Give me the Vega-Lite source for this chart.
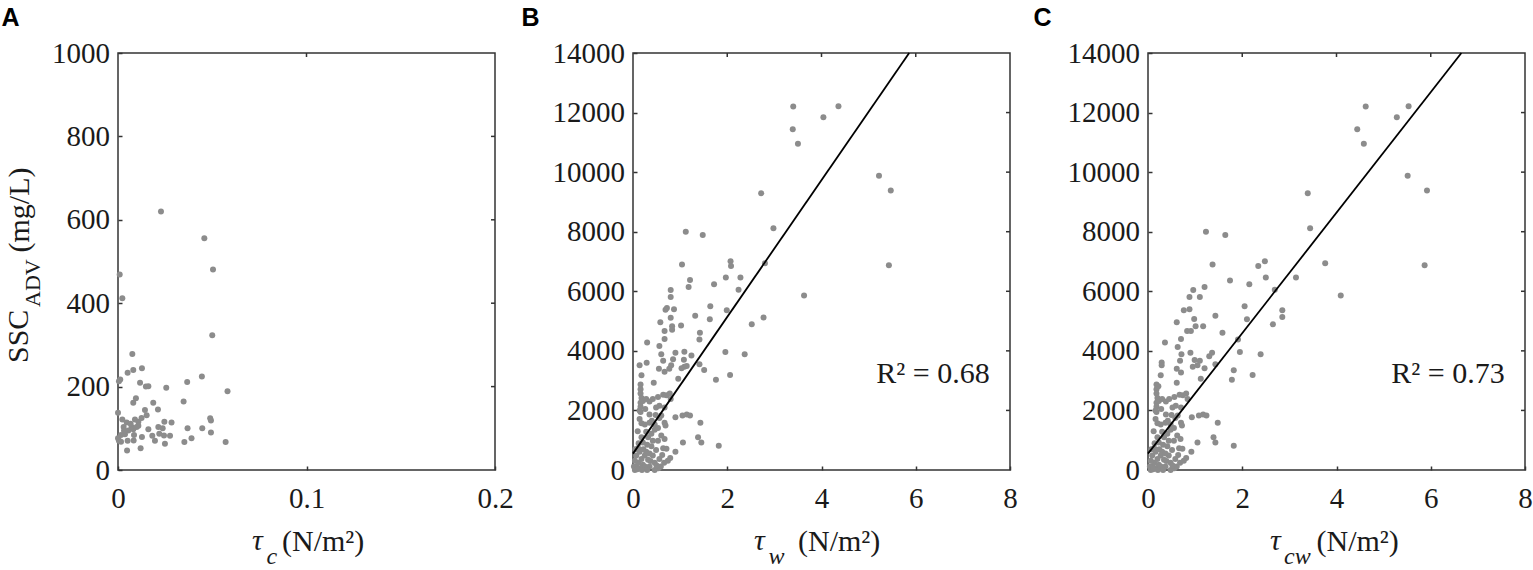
{
"$schema":"https://vega.github.io/schema/vega-lite/v6.json",
"background":"white",
"padding":{"left":0,"top":5,"right":0,"bottom":0},
"bounds":"flush",
"spacing":138,
"datasets":{
"a":[{"x":0.0228,"y":620},{"x":0.0458,"y":556},{"x":0.0504,"y":481},{"x":0.05,"y":323},{"x":0.0009,"y":469},{"x":0.0023,"y":412},{"x":0.0076,"y":278},{"x":0.0051,"y":233},{"x":0.0081,"y":240},{"x":0.0127,"y":244},{"x":0.0005,"y":213},{"x":0.0012,"y":217},{"x":0.0117,"y":209},{"x":0.0148,"y":200},{"x":0.0161,"y":201},{"x":0.0256,"y":197},{"x":0.0367,"y":211},{"x":0.0445,"y":224},{"x":0.0581,"y":189},{"x":0.0095,"y":172},{"x":0.0081,"y":161},{"x":0.0187,"y":161},{"x":0.0212,"y":145},{"x":0.0348,"y":164},{"x":0,"y":137},{"x":0.0143,"y":144},{"x":0.0152,"y":131},{"x":0.0125,"y":125},{"x":0.009,"y":121},{"x":0.0023,"y":121},{"x":0.0046,"y":114},{"x":0.0067,"y":111},{"x":0.0108,"y":116},{"x":0.0072,"y":103},{"x":0.003,"y":103},{"x":0.0055,"y":95},{"x":0.0108,"y":106},{"x":0.0214,"y":103},{"x":0.0246,"y":116},{"x":0.0284,"y":114},{"x":0.0237,"y":100},{"x":0.0219,"y":87},{"x":0.0244,"y":83},{"x":0.0276,"y":82},{"x":0.0182,"y":82},{"x":0.0127,"y":79},{"x":0.0085,"y":84},{"x":0.0016,"y":84},{"x":0,"y":76},{"x":0.0016,"y":68},{"x":0.0051,"y":70},{"x":0.0083,"y":71},{"x":0.0196,"y":70},{"x":0.0249,"y":63},{"x":0.0352,"y":67},{"x":0.039,"y":76},{"x":0.0369,"y":100},{"x":0.0447,"y":100},{"x":0.0493,"y":119},{"x":0.0489,"y":124},{"x":0.0493,"y":90},{"x":0.0571,"y":67},{"x":0.0048,"y":47},{"x":0.012,"y":52},{"x":0.0037,"y":86},{"x":0.0032,"y":94},{"x":0.0161,"y":98},{"x":0.0081,"y":98},{"x":0.0005,"y":70},{"x":0.0099,"y":103}],
"b":[{"x":3.4,"y":12200},{"x":4.36,"y":12215},{"x":4.04,"y":11840},{"x":3.39,"y":11440},{"x":3.5,"y":10955},{"x":5.22,"y":9880},{"x":5.47,"y":9380},{"x":5.43,"y":6870},{"x":2.72,"y":9290},{"x":2.98,"y":8120},{"x":2.8,"y":6945},{"x":3.63,"y":5860},{"x":2.77,"y":5120},{"x":2.52,"y":4890},{"x":2.37,"y":3890},{"x":2.06,"y":3190},{"x":1.96,"y":3960},{"x":1.76,"y":3030},{"x":1.82,"y":810},{"x":1.12,"y":8000},{"x":1.48,"y":7890},{"x":1.04,"y":6900},{"x":2.07,"y":7010},{"x":2.08,"y":6850},{"x":1.97,"y":6460},{"x":2.28,"y":6460},{"x":2.24,"y":6050},{"x":1.99,"y":5360},{"x":1.72,"y":6240},{"x":1.64,"y":5500},{"x":1.63,"y":5060},{"x":1.32,"y":5180},{"x":1.21,"y":6380},{"x":1.18,"y":6140},{"x":0.8,"y":6040},{"x":0.8,"y":5810},{"x":0.72,"y":5440},{"x":0.69,"y":5380},{"x":0.87,"y":5400},{"x":0.8,"y":5110},{"x":0.58,"y":4960},{"x":0.83,"y":4830},{"x":0.83,"y":4710},{"x":0.67,"y":4670},{"x":1.02,"y":4850},{"x":1.42,"y":4610},{"x":1.41,"y":4380},{"x":0.3,"y":4280},{"x":0.67,"y":4400},{"x":0.56,"y":4160},{"x":0.6,"y":3890},{"x":0.64,"y":3670},{"x":0.9,"y":3940},{"x":0.85,"y":3720},{"x":1.09,"y":3970},{"x":1.08,"y":3700},{"x":1.24,"y":3840},{"x":1.09,"y":3470},{"x":1.03,"y":3420},{"x":1.14,"y":3490},{"x":1.41,"y":3550},{"x":1.51,"y":3360},{"x":0.96,"y":3060},{"x":0.14,"y":3520},{"x":0.29,"y":3600},{"x":0.18,"y":3180},{"x":0.55,"y":3400},{"x":0.67,"y":3300},{"x":0.81,"y":3520},{"x":0.77,"y":3400},{"x":0.44,"y":2930},{"x":0.16,"y":2870},{"x":0.16,"y":2710},{"x":0.16,"y":2570},{"x":0.18,"y":2420},{"x":0.16,"y":2260},{"x":0.16,"y":2120},{"x":0.21,"y":2320},{"x":0.28,"y":2380},{"x":0.35,"y":2300},{"x":0.42,"y":2380},{"x":0.53,"y":2450},{"x":0.64,"y":2530},{"x":0.71,"y":2510},{"x":0.78,"y":2570},{"x":0.8,"y":2380},{"x":0.56,"y":2160},{"x":0.49,"y":2100},{"x":0.67,"y":2100},{"x":0.35,"y":1860},{"x":0.9,"y":1770},{"x":1.05,"y":1830},{"x":1.14,"y":1860},{"x":1.21,"y":1830},{"x":1.43,"y":1590},{"x":1.38,"y":1100},{"x":1.45,"y":920},{"x":1.06,"y":920},{"x":0.9,"y":610},{"x":0.79,"y":400},{"x":0.14,"y":1710},{"x":0.18,"y":1570},{"x":0.25,"y":1530},{"x":0.35,"y":1590},{"x":0.46,"y":1530},{"x":0.67,"y":1590},{"x":0.69,"y":1490},{"x":0.6,"y":1830},{"x":0.04,"y":0},{"x":0.07,"y":120},{"x":0.11,"y":245},{"x":0.14,"y":60},{"x":0.18,"y":370},{"x":0.21,"y":180},{"x":0.25,"y":490},{"x":0.28,"y":610},{"x":0.32,"y":340},{"x":0.35,"y":120},{"x":0.39,"y":800},{"x":0.42,"y":490},{"x":0.46,"y":245},{"x":0.49,"y":670},{"x":0.53,"y":980},{"x":0.56,"y":370},{"x":0.6,"y":1160},{"x":0.64,"y":730},{"x":0.67,"y":1040},{"x":0.71,"y":710},{"x":0.74,"y":310},{"x":0.18,"y":1100},{"x":0.21,"y":920},{"x":0.28,"y":1280},{"x":0.32,"y":1100},{"x":0.39,"y":1220},{"x":0.46,"y":1350},{"x":0.53,"y":1410},{"x":0.11,"y":730},{"x":0.07,"y":490},{"x":0.14,"y":610},{"x":0.04,"y":310},{"x":0.02,"y":120},{"x":0.09,"y":25},{"x":0.42,"y":980},{"x":0.25,"y":120},{"x":0.35,"y":550},{"x":0.59,"y":120},{"x":0.66,"y":245},{"x":0.46,"y":0},{"x":0.54,"y":60},{"x":0.3,"y":0},{"x":0.19,"y":0},{"x":0.12,"y":900},{"x":0.1,"y":1300},{"x":0.22,"y":700},{"x":0.3,"y":850},{"x":0.37,"y":300},{"x":0.5,"y":150},{"x":0.62,"y":500},{"x":0.05,"y":700},{"x":0.16,"y":1950},{"x":0.14,"y":2000},{"x":0.26,"y":2050},{"x":0.4,"y":1650},{"x":0.48,"y":1850},{"x":0.56,"y":1750}],
"c":[{"x":4.62,"y":12200},{"x":5.53,"y":12215},{"x":5.28,"y":11840},{"x":4.44,"y":11440},{"x":4.58,"y":10955},{"x":5.51,"y":9880},{"x":5.92,"y":9380},{"x":5.87,"y":6870},{"x":3.39,"y":9290},{"x":3.44,"y":8120},{"x":3.76,"y":6945},{"x":4.09,"y":5860},{"x":3.14,"y":6460},{"x":2.85,"y":5360},{"x":2.85,"y":5140},{"x":2.65,"y":4890},{"x":2.39,"y":3890},{"x":2.22,"y":3190},{"x":1.95,"y":3960},{"x":1.91,"y":4380},{"x":1.78,"y":3030},{"x":1.82,"y":3350},{"x":1.82,"y":810},{"x":1.48,"y":1590},{"x":1.39,"y":1100},{"x":1.43,"y":920},{"x":1.05,"y":920},{"x":1.23,"y":8000},{"x":1.64,"y":7890},{"x":1.37,"y":6900},{"x":2.34,"y":6850},{"x":2.48,"y":7010},{"x":2.5,"y":6460},{"x":2.15,"y":6240},{"x":2.05,"y":5500},{"x":2.1,"y":5060},{"x":2.69,"y":6050},{"x":1.74,"y":6360},{"x":1.2,"y":6140},{"x":1.43,"y":5180},{"x":1.58,"y":4610},{"x":0.96,"y":6040},{"x":1.1,"y":5810},{"x":0.88,"y":5810},{"x":0.76,"y":5360},{"x":0.88,"y":5400},{"x":0.98,"y":5070},{"x":1.01,"y":4830},{"x":1.17,"y":4830},{"x":0.61,"y":4960},{"x":0.83,"y":4670},{"x":0.91,"y":4670},{"x":0.7,"y":4400},{"x":0.36,"y":4280},{"x":0.63,"y":4130},{"x":0.71,"y":3890},{"x":0.9,"y":3940},{"x":0.68,"y":3670},{"x":0.99,"y":3690},{"x":1.1,"y":3670},{"x":1.3,"y":3820},{"x":1.36,"y":3940},{"x":0.95,"y":3470},{"x":1.05,"y":3520},{"x":1.2,"y":3420},{"x":1.12,"y":3060},{"x":1.43,"y":3550},{"x":0.29,"y":3610},{"x":0.29,"y":3520},{"x":0.27,"y":3180},{"x":0.61,"y":3400},{"x":0.7,"y":3270},{"x":0.61,"y":2930},{"x":0.18,"y":2870},{"x":0.22,"y":2810},{"x":0.18,"y":2710},{"x":0.18,"y":2570},{"x":0.2,"y":2420},{"x":0.18,"y":2260},{"x":0.18,"y":2120},{"x":0.23,"y":2320},{"x":0.3,"y":2380},{"x":0.38,"y":2300},{"x":0.45,"y":2380},{"x":0.56,"y":2450},{"x":0.67,"y":2530},{"x":0.74,"y":2510},{"x":0.81,"y":2570},{"x":0.84,"y":2380},{"x":0.59,"y":2160},{"x":0.52,"y":2100},{"x":0.7,"y":2100},{"x":0.38,"y":1860},{"x":0.93,"y":1770},{"x":1.08,"y":1830},{"x":1.17,"y":1860},{"x":1.24,"y":1830},{"x":0.81,"y":400},{"x":0.92,"y":610},{"x":0.16,"y":1710},{"x":0.2,"y":1570},{"x":0.27,"y":1530},{"x":0.37,"y":1590},{"x":0.48,"y":1530},{"x":0.7,"y":1590},{"x":0.72,"y":1490},{"x":0.63,"y":1830},{"x":0.06,"y":0},{"x":0.09,"y":120},{"x":0.13,"y":245},{"x":0.16,"y":60},{"x":0.2,"y":370},{"x":0.23,"y":180},{"x":0.27,"y":490},{"x":0.3,"y":610},{"x":0.34,"y":340},{"x":0.37,"y":120},{"x":0.41,"y":800},{"x":0.44,"y":490},{"x":0.48,"y":245},{"x":0.51,"y":670},{"x":0.55,"y":980},{"x":0.58,"y":370},{"x":0.62,"y":1160},{"x":0.66,"y":730},{"x":0.69,"y":1040},{"x":0.73,"y":710},{"x":0.76,"y":310},{"x":0.2,"y":1100},{"x":0.23,"y":920},{"x":0.3,"y":1280},{"x":0.34,"y":1100},{"x":0.41,"y":1220},{"x":0.48,"y":1350},{"x":0.55,"y":1410},{"x":0.13,"y":730},{"x":0.09,"y":490},{"x":0.16,"y":610},{"x":0.06,"y":310},{"x":0.04,"y":120},{"x":0.11,"y":25},{"x":0.44,"y":980},{"x":0.27,"y":120},{"x":0.37,"y":550},{"x":0.61,"y":120},{"x":0.68,"y":245},{"x":0.48,"y":0},{"x":0.56,"y":60},{"x":0.32,"y":0},{"x":0.21,"y":0},{"x":0.14,"y":900},{"x":0.12,"y":1300},{"x":0.24,"y":700},{"x":0.32,"y":850},{"x":0.39,"y":300},{"x":0.52,"y":150},{"x":0.64,"y":500},{"x":0.07,"y":700},{"x":0.18,"y":1950},{"x":0.16,"y":2000},{"x":0.28,"y":2050},{"x":0.42,"y":1650},{"x":0.5,"y":1850},{"x":0.58,"y":1750}],
"bfit":[{"x":0,"y":550},{"x":5.86,"y":14000}],
"cfit":[{"x":0,"y":550},{"x":6.65,"y":14000}],
"blab":[{"x":7.57,"y":2930,"label":"R² = 0.68"}],
"clab":[{"x":7.57,"y":2930,"label":"R² = 0.73"}],
"atx":[{"v":0.1}],
"aty":[{"v":200},{"v":400},{"v":600},{"v":800}],
"btx":[{"v":2},{"v":4},{"v":6}],
"bty":[{"v":2000},{"v":4000},{"v":6000},{"v":8000},{"v":10000},{"v":12000}],
"one":[{}]
},
"hconcat":[
{
"width":377,"height":417,
"title":{"text":"A","anchor":"start","frame":"group","dx":-116.5,"offset":-12,"font":"Liberation Sans","fontSize":25,"fontWeight":"bold","baseline":"alphabetic","color":"#000000"},
"layer":[
{"data":{"name":"a"},"mark":{"type":"point","filled":true,"color":"#8c8c8c","size":36,"opacity":1},
"encoding":{
"x":{"field":"x","type":"quantitative","scale":{"domain":[0,0.2],"nice":false,"zero":false},"axis":{"orient":"bottom","offset":-4,"values":[0,0.1,0.2],"format":"~g","labelFont":"Liberation Serif","labelFontSize":29,"labelPadding":14,"title":"(N/m²)","titleFont":"Liberation Serif","titleX":163.5,"titleY":84,"titleAlign":"left","titleBaseline":"alphabetic","titleAngle":0}},
"y":{"field":"y","type":"quantitative","scale":{"domain":[0,1000],"nice":false,"zero":false},"axis":{"orient":"left","offset":-4,"values":[0,200,400,600,800,1000],"format":"d","labelFont":"Liberation Serif","labelFontSize":29,"labelPadding":8.4,"title":"(mg/L)","titleFont":"Liberation Serif","titleX":-93.8,"titleY":199,"titleAlign":"left","titleBaseline":"alphabetic","titleAngle":270}}}},
{"data":{"name":"atx"},"mark":{"type":"rule","color":"#333333","strokeWidth":1.5},
"encoding":{"x":{"field":"v","type":"quantitative"},"y":{"datum":1000,"type":"quantitative"},"y2":{"datum":990.4}}},
{"data":{"name":"aty"},"mark":{"type":"rule","color":"#333333","strokeWidth":1.5},
"encoding":{"y":{"field":"v","type":"quantitative"},"x":{"datum":0.2,"type":"quantitative"},"x2":{"datum":0.19788}}},
{"data":{"name":"one"},"mark":{"type":"text","font":"Liberation Serif","fontSize":30,"fontStyle":"italic","align":"left","baseline":"alphabetic","color":"#1a1a1a"},
"encoding":{"x":{"datum":0.07109,"type":"quantitative"},"y":{"datum":-191.85,"type":"quantitative"},"text":{"value":"τ"}}},
{"data":{"name":"one"},"mark":{"type":"text","font":"Liberation Serif","fontSize":24,"fontStyle":"italic","align":"left","baseline":"alphabetic","color":"#1a1a1a"},
"encoding":{"x":{"datum":0.07878,"type":"quantitative"},"y":{"datum":-225.4,"type":"quantitative"},"text":{"value":"c"}}},
{"data":{"name":"one"},"mark":{"type":"text","font":"Liberation Serif","fontSize":30,"angle":270,"align":"left","baseline":"alphabetic","color":"#1a1a1a"},
"encoding":{"x":{"datum":-0.04764,"type":"quantitative"},"y":{"datum":256.6,"type":"quantitative"},"text":{"value":"SSC"}}},
{"data":{"name":"one"},"mark":{"type":"text","font":"Liberation Serif","fontSize":22,"angle":270,"align":"left","baseline":"alphabetic","color":"#1a1a1a"},
"encoding":{"x":{"datum":-0.04149,"type":"quantitative"},"y":{"datum":390.9,"type":"quantitative"},"text":{"value":"ADV"}}}
]
},
{
"width":377,"height":417,
"title":{"text":"B","anchor":"start","frame":"group","dx":-111.5,"offset":-12,"font":"Liberation Sans","fontSize":25,"fontWeight":"bold","baseline":"alphabetic","color":"#000000"},
"layer":[
{"data":{"name":"b"},"mark":{"type":"point","filled":true,"color":"#8c8c8c","size":36,"opacity":1},
"encoding":{
"x":{"field":"x","type":"quantitative","scale":{"domain":[0,8],"nice":false,"zero":false},"axis":{"orient":"bottom","offset":-4,"values":[0,2,4,6,8],"format":"d","labelFont":"Liberation Serif","labelFontSize":29,"labelPadding":14,"title":"(N/m²)","titleFont":"Liberation Serif","titleX":164.5,"titleY":84,"titleAlign":"left","titleBaseline":"alphabetic","titleAngle":0}},
"y":{"field":"y","type":"quantitative","scale":{"domain":[0,14000],"nice":false,"zero":false},"axis":{"orient":"left","offset":-4,"values":[0,2000,4000,6000,8000,10000,12000,14000],"format":"d","labelFont":"Liberation Serif","labelFontSize":29,"labelPadding":8.4,"title":null}}}},
{"data":{"name":"bfit"},"mark":{"type":"line","color":"#000000","strokeWidth":1.8},
"encoding":{"x":{"field":"x","type":"quantitative"},"y":{"field":"y","type":"quantitative"}}},
{"data":{"name":"blab"},"mark":{"type":"text","font":"Liberation Serif","fontSize":30,"align":"right","baseline":"alphabetic","color":"#1a1a1a"},
"encoding":{"x":{"field":"x","type":"quantitative"},"y":{"field":"y","type":"quantitative"},"text":{"field":"label"}}},
{"data":{"name":"btx"},"mark":{"type":"rule","color":"#333333","strokeWidth":1.5},
"encoding":{"x":{"field":"v","type":"quantitative"},"y":{"datum":14000,"type":"quantitative"},"y2":{"datum":13866}}},
{"data":{"name":"bty"},"mark":{"type":"rule","color":"#333333","strokeWidth":1.5},
"encoding":{"y":{"field":"v","type":"quantitative"},"x":{"datum":8,"type":"quantitative"},"x2":{"datum":7.915}}},
{"data":{"name":"one"},"mark":{"type":"text","font":"Liberation Serif","fontSize":30,"fontStyle":"italic","align":"left","baseline":"alphabetic","color":"#1a1a1a"},
"encoding":{"x":{"datum":2.5676,"type":"quantitative"},"y":{"datum":-2685.8,"type":"quantitative"},"text":{"value":"τ"}}},
{"data":{"name":"one"},"mark":{"type":"text","font":"Liberation Serif","fontSize":24,"fontStyle":"italic","align":"left","baseline":"alphabetic","color":"#1a1a1a"},
"encoding":{"x":{"datum":2.8753,"type":"quantitative"},"y":{"datum":-3156,"type":"quantitative"},"text":{"value":"w"}}}
]
},
{
"width":377,"height":417,
"title":{"text":"C","anchor":"start","frame":"group","dx":-114.5,"offset":-12,"font":"Liberation Sans","fontSize":25,"fontWeight":"bold","baseline":"alphabetic","color":"#000000"},
"layer":[
{"data":{"name":"c"},"mark":{"type":"point","filled":true,"color":"#8c8c8c","size":36,"opacity":1},
"encoding":{
"x":{"field":"x","type":"quantitative","scale":{"domain":[0,8],"nice":false,"zero":false},"axis":{"orient":"bottom","offset":-4,"values":[0,2,4,6,8],"format":"d","labelFont":"Liberation Serif","labelFontSize":29,"labelPadding":14,"title":"(N/m²)","titleFont":"Liberation Serif","titleX":168,"titleY":84,"titleAlign":"left","titleBaseline":"alphabetic","titleAngle":0}},
"y":{"field":"y","type":"quantitative","scale":{"domain":[0,14000],"nice":false,"zero":false},"axis":{"orient":"left","offset":-4,"values":[0,2000,4000,6000,8000,10000,12000,14000],"format":"d","labelFont":"Liberation Serif","labelFontSize":29,"labelPadding":8.4,"title":null}}}},
{"data":{"name":"cfit"},"mark":{"type":"line","color":"#000000","strokeWidth":1.8},
"encoding":{"x":{"field":"x","type":"quantitative"},"y":{"field":"y","type":"quantitative"}}},
{"data":{"name":"clab"},"mark":{"type":"text","font":"Liberation Serif","fontSize":30,"align":"right","baseline":"alphabetic","color":"#1a1a1a"},
"encoding":{"x":{"field":"x","type":"quantitative"},"y":{"field":"y","type":"quantitative"},"text":{"field":"label"}}},
{"data":{"name":"btx"},"mark":{"type":"rule","color":"#333333","strokeWidth":1.5},
"encoding":{"x":{"field":"v","type":"quantitative"},"y":{"datum":14000,"type":"quantitative"},"y2":{"datum":13866}}},
{"data":{"name":"bty"},"mark":{"type":"rule","color":"#333333","strokeWidth":1.5},
"encoding":{"y":{"field":"v","type":"quantitative"},"x":{"datum":8,"type":"quantitative"},"x2":{"datum":7.915}}},
{"data":{"name":"one"},"mark":{"type":"text","font":"Liberation Serif","fontSize":30,"fontStyle":"italic","align":"left","baseline":"alphabetic","color":"#1a1a1a"},
"encoding":{"x":{"datum":2.5889,"type":"quantitative"},"y":{"datum":-2685.8,"type":"quantitative"},"text":{"value":"τ"}}},
{"data":{"name":"one"},"mark":{"type":"text","font":"Liberation Serif","fontSize":24,"fontStyle":"italic","align":"left","baseline":"alphabetic","color":"#1a1a1a"},
"encoding":{"x":{"datum":2.8859,"type":"quantitative"},"y":{"datum":-3156,"type":"quantitative"},"text":{"value":"cw"}}}
]
}
],
"config":{
"view":{"stroke":"#333333","strokeWidth":1.5},
"axis":{"domain":false,"grid":false,"labelFont":"Liberation Serif","labelFontSize":29,"labelColor":"#1a1a1a","tickColor":"#333333","tickWidth":1.5,"tickSize":4,"labelFlush":false,"labelOverlap":false,"titleFont":"Liberation Serif","titleFontSize":30,"titleColor":"#1a1a1a","titleFontWeight":"normal"}
}
}
